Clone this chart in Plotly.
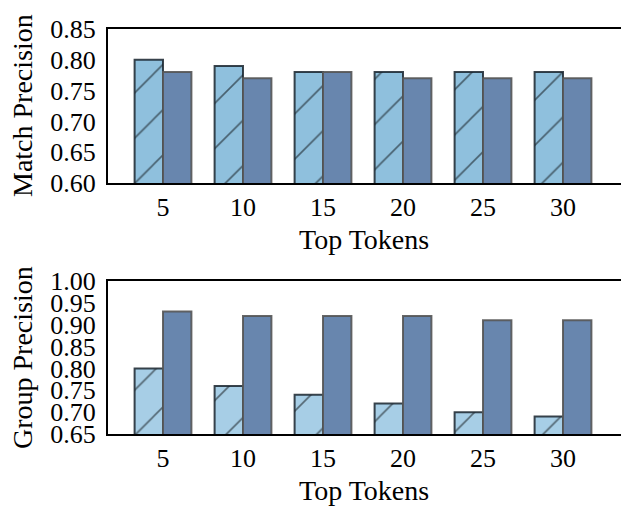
import plotly.graph_objects as go

# Top-token settings on the x axis
top_tokens = ["5", "10", "15", "20", "25", "30"]

# Match precision (upper panel)
match_light = [0.80, 0.79, 0.78, 0.78, 0.78, 0.78]
match_dark = [0.78, 0.77, 0.78, 0.77, 0.77, 0.77]

# Group precision (lower panel)
group_light = [0.80, 0.76, 0.74, 0.72, 0.70, 0.69]
group_dark = [0.93, 0.92, 0.92, 0.92, 0.91, 0.91]

match_ticks = [0.60, 0.65, 0.70, 0.75, 0.80, 0.85]
group_ticks = [0.65, 0.70, 0.75, 0.80, 0.85, 0.90, 0.95, 1.00]

W, H = 621, 506
FONT = "Liberation Serif"

LIGHT_TOP = "#8fc0dd"
LIGHT_BOT = "#a7cee6"
DARK = "#6886ae"
LIGHT_EDGE = "rgba(25,35,45,0.85)"
DARK_EDGE = "rgba(85,85,85,0.9)"


def px_x(p):
    return p / W


def px_y(p):
    return 1 - p / H


fig = go.Figure()


def add_pair(light_vals, dark_vals, light_color, xa, ya):
    fig.add_trace(go.Bar(
        x=top_tokens, y=light_vals, xaxis=xa, yaxis=ya,
        marker=dict(
            color=light_color,
            line=dict(color=LIGHT_EDGE, width=2),
            pattern=dict(shape="/", fgcolor="#000000", bgcolor=light_color,
                         size=32, solidity=0.05),
        ),
        showlegend=False, hoverinfo="skip",
    ))
    fig.add_trace(go.Bar(
        x=top_tokens, y=dark_vals, xaxis=xa, yaxis=ya,
        marker=dict(color=DARK, line=dict(color=DARK_EDGE, width=2)),
        showlegend=False, hoverinfo="skip",
    ))


add_pair(match_light, match_dark, LIGHT_TOP, "x", "y")
add_pair(group_light, group_dark, LIGHT_BOT, "x2", "y2")

xrange = [-0.6875, 5.725]
x_common = dict(
    type="category", range=xrange, showgrid=False, zeroline=False,
    showline=True, mirror=True, linecolor="black", linewidth=2,
    ticks="", ticklabelstandoff=0, automargin=False,
    tickfont=dict(family=FONT, size=26, color="black"),
    domain=[px_x(108), 1.0],
)
y_common = dict(
    showgrid=False, zeroline=False, showline=True, mirror=False,
    linecolor="black", linewidth=2, ticks="", ticklabelstandoff=5,
    tickformat=".2f", tickmode="array", automargin=False,
    tickfont=dict(family=FONT, size=26, color="black"),
)

fig.update_layout(
    width=W, height=H,
    margin=dict(l=0, r=0, t=0, b=0, autoexpand=False),
    paper_bgcolor="white", plot_bgcolor="white",
    barmode="group", bargap=0.29, bargroupgap=0.0,
    xaxis=dict(x_common, anchor="y"),
    yaxis=dict(y_common, anchor="x", range=[0.60, 0.85], tickvals=match_ticks,
               domain=[px_y(183), px_y(29)]),
    xaxis2=dict(x_common, anchor="y2"),
    yaxis2=dict(y_common, anchor="x2", range=[0.65, 1.00], tickvals=group_ticks,
                domain=[px_y(434), px_y(281)]),
)

title_font = dict(family=FONT, size=28, color="black")
for text, xp, yp, ang in [
    ("Top Tokens", 364, 240, 0),
    ("Top Tokens", 364, 490, 0),
    ("Match Precision", 22, 106, -90),
    ("Group Precision", 22, 358, -90),
]:
    fig.add_annotation(
        text=text, xref="paper", yref="paper", x=px_x(xp), y=px_y(yp),
        xanchor="center", yanchor="middle", showarrow=False,
        textangle=ang, font=title_font, borderpad=0,
    )

fig.write_html("out.html")
